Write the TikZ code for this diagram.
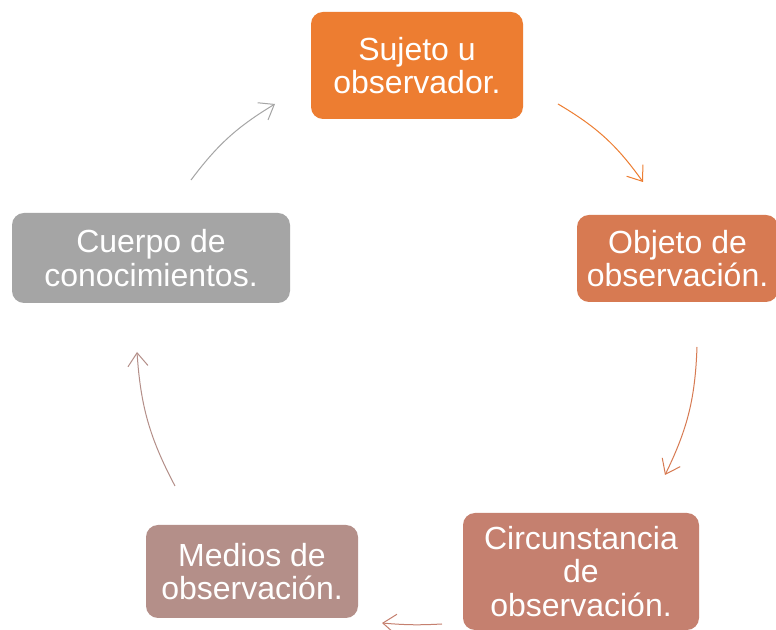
\documentclass[tikz,border=0pt]{standalone}
\usepackage{fontspec}
\setmainfont{Liberation Sans}
\usetikzlibrary{arrows.meta}
\definecolor{cA}{HTML}{ED7D31}
\definecolor{cB}{HTML}{D77A52}
\definecolor{cC}{HTML}{C5806F}
\definecolor{cD}{HTML}{B48F89}
\definecolor{cE}{HTML}{A5A5A5}
\tikzset{
  box/.style={rounded corners=9pt, inner sep=0pt, align=center, text=white,
    font=\fontsize{24}{25}\selectfont},
  cyc/.style={line width=0.75pt, -{Straight Barb[length=10pt,width=15pt,line width=0.75pt]}}
}
\begin{document}
\begin{tikzpicture}[x=0.75pt,y=-0.75pt]
\useasboundingbox (0,0) rectangle (776,630);
\fill[white] (0,0) rectangle (776,630);
\node[box, fill=cA, minimum width=212*0.75pt, minimum height=107*0.75pt] (a) at (417,65.5) {Sujeto u\\observador.};
\node[box, fill=cB, minimum width=201*0.75pt, minimum height=87*0.75pt] (b) at (677.5,258.5) {Objeto de\\observación.};
\node[box, fill=cC, minimum width=236*0.75pt, minimum height=117*0.75pt] (c) at (581,571.5) {Circunstancia\\de\\observación.};
\node[box, fill=cD, minimum width=212*0.75pt, minimum height=93*0.75pt] (d) at (252,571.5) {Medios de\\observación.};
\node[box, fill=cE, minimum width=278*0.75pt, minimum height=90*0.75pt] (e) at (151,258) {Cuerpo de\\conocimientos.};
\coordinate (a1) at (558,104); \coordinate (a2) at (643,182);
\coordinate (b1) at (697,347); \coordinate (b2) at (665,475);
\coordinate (c1) at (442,624); \coordinate (c2) at (382,623);
\coordinate (d1) at (175,486); \coordinate (d2) at (137,352);
\coordinate (e1) at (191,180); \coordinate (e2) at (275,104);
\draw[cyc, cA] (a1) to[bend left=12] (a2);
\draw[cyc, cB] (b1) to[bend left=12] (b2);
\draw[cyc, cC] (c1) to[bend left=4] (c2);
\draw[cyc, cD] (d1) to[bend left=12] (d2);
\draw[cyc, cE] (e1) to[bend left=11] (e2);
\end{tikzpicture}
\end{document}
